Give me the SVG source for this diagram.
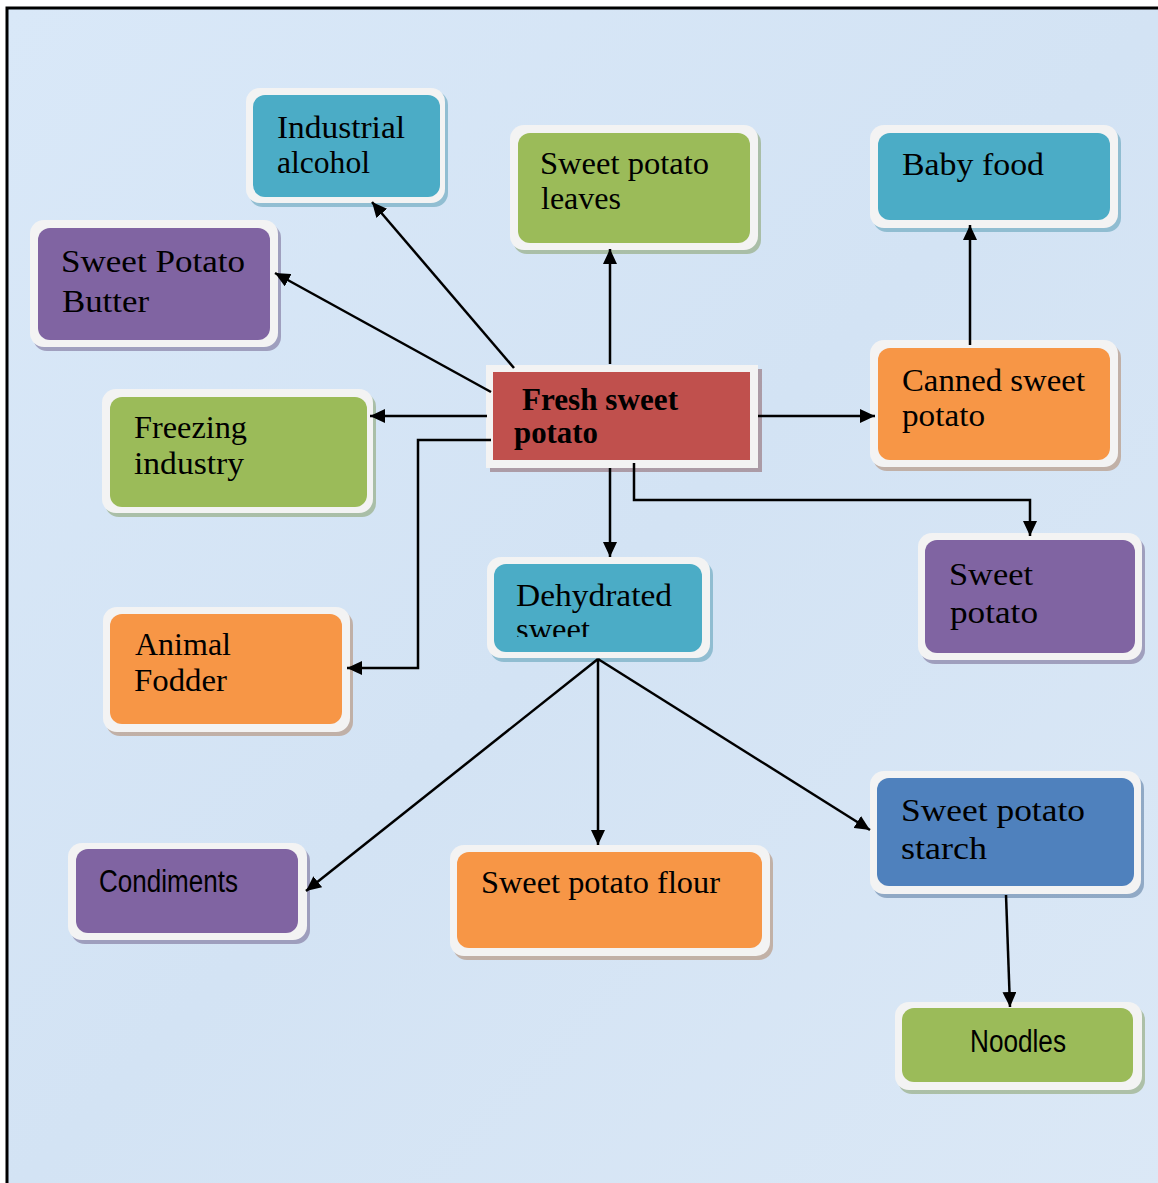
<svg xmlns="http://www.w3.org/2000/svg" width="1158" height="1183" viewBox="0 0 1158 1183">
<style>
.frame{fill:#f3f3f3;}
.t{font-family:"Liberation Serif","Times New Roman",serif;font-size:32px;fill:#000;}
.b{font-weight:bold;}
.s{font-family:"Liberation Sans",Arial,sans-serif;font-size:31px;fill:#000;}
.c{stroke:#000;stroke-width:2.5;fill:none;marker-end:url(#ah);}
</style>
<defs>
<marker id="ah" markerUnits="userSpaceOnUse" markerWidth="16" markerHeight="14" refX="15" refY="7" orient="auto">
<path d="M0,0 L15,7 L0,14 z" fill="#000"/>
</marker>
<linearGradient id="bg" x1="0" y1="0" x2="1" y2="1">
<stop offset="0" stop-color="#d9e8f8"/>
<stop offset="0.5" stop-color="#d3e3f4"/>
<stop offset="1" stop-color="#dbe8f6"/>
</linearGradient>
<clipPath id="dclip"><rect x="494" y="564" width="208" height="73"/></clipPath>
</defs>
<rect x="0" y="0" width="1158" height="1183" fill="#ffffff"/>
<rect x="7" y="8" width="1160" height="1190" fill="url(#bg)" stroke="#000" stroke-width="3"/>

<g id="n-industrial">
<rect x="249" y="91" width="199" height="116" rx="14" fill="#3f8ea6" opacity="0.45"/>
<rect x="246" y="88" width="199" height="115" rx="14" class="frame"/>
<rect x="253" y="95" width="187" height="102" rx="12" fill="#4bacc6"/>
<text class="t" x="277" y="138" textLength="128" lengthAdjust="spacingAndGlyphs">Industrial</text>
<text class="t" x="277" y="173" textLength="93" lengthAdjust="spacingAndGlyphs">alcohol</text>
</g>

<g id="n-butter">
<rect x="33" y="224" width="248" height="127" rx="14" fill="#5e4a7a" opacity="0.45"/>
<rect x="30" y="220" width="248" height="127" rx="14" class="frame"/>
<rect x="38" y="228" width="232" height="112" rx="12" fill="#8064a2"/>
<text class="t" x="61" y="272" textLength="184" lengthAdjust="spacingAndGlyphs">Sweet Potato</text>
<text class="t" x="62" y="312" textLength="87" lengthAdjust="spacingAndGlyphs">Butter</text>
</g>

<g id="n-freezing">
<rect x="105" y="393" width="271" height="124" rx="14" fill="#76904a" opacity="0.45"/>
<rect x="102" y="389" width="271" height="124" rx="14" class="frame"/>
<rect x="110" y="397" width="257" height="110" rx="12" fill="#9bbb59"/>
<text class="t" x="134" y="438" textLength="113" lengthAdjust="spacingAndGlyphs">Freezing</text>
<text class="t" x="134" y="474" textLength="110" lengthAdjust="spacingAndGlyphs">industry</text>
</g>

<g id="n-leaves">
<rect x="513" y="129" width="248" height="125" rx="14" fill="#76904a" opacity="0.45"/>
<rect x="510" y="125" width="248" height="125" rx="14" class="frame"/>
<rect x="518" y="133" width="232" height="110" rx="12" fill="#9bbb59"/>
<text class="t" x="540" y="174" textLength="169" lengthAdjust="spacingAndGlyphs">Sweet potato</text>
<text class="t" x="541" y="209" textLength="80" lengthAdjust="spacingAndGlyphs">leaves</text>
</g>

<g id="n-baby">
<rect x="873" y="129" width="248" height="103" rx="14" fill="#3f8ea6" opacity="0.45"/>
<rect x="870" y="125" width="248" height="103" rx="14" class="frame"/>
<rect x="878" y="133" width="232" height="87" rx="12" fill="#4bacc6"/>
<text class="t" x="902" y="175" textLength="142" lengthAdjust="spacingAndGlyphs">Baby food</text>
</g>

<g id="n-canned">
<rect x="873" y="344" width="248" height="127" rx="14" fill="#a8704a" opacity="0.45"/>
<rect x="870" y="340" width="248" height="127" rx="14" class="frame"/>
<rect x="878" y="348" width="232" height="112" rx="12" fill="#f79646"/>
<text class="t" x="902" y="391" textLength="183" lengthAdjust="spacingAndGlyphs">Canned sweet</text>
<text class="t" x="902" y="426" textLength="83" lengthAdjust="spacingAndGlyphs">potato</text>
</g>

<g id="n-fresh">
<rect x="490" y="369" width="272" height="103" fill="#8a6066" opacity="0.55"/>
<rect x="486" y="365" width="272" height="103" class="frame"/>
<rect x="493" y="372" width="257" height="88" fill="#c0504d"/>
<text class="t b" x="522" y="410" font-size="28" textLength="156" lengthAdjust="spacingAndGlyphs">Fresh sweet</text>
<text class="t b" x="514" y="443" font-size="28" textLength="84" lengthAdjust="spacingAndGlyphs">potato</text>
</g>

<g id="n-sweetpotato">
<rect x="921" y="537" width="224" height="127" rx="14" fill="#5e4a7a" opacity="0.45"/>
<rect x="918" y="533" width="224" height="127" rx="14" class="frame"/>
<rect x="925" y="540" width="210" height="113" rx="12" fill="#8064a2"/>
<text class="t" x="949" y="585" textLength="84" lengthAdjust="spacingAndGlyphs">Sweet</text>
<text class="t" x="950" y="623" textLength="88" lengthAdjust="spacingAndGlyphs">potato</text>
</g>

<g id="n-dehydrated">
<rect x="490" y="561" width="223" height="101" rx="14" fill="#3f8ea6" opacity="0.45"/>
<rect x="487" y="557" width="223" height="101" rx="14" class="frame"/>
<rect x="494" y="564" width="208" height="88" rx="12" fill="#4bacc6"/>
<g clip-path="url(#dclip)">
<text class="t" x="516" y="606" textLength="156" lengthAdjust="spacingAndGlyphs">Dehydrated</text>
<text class="t" x="516" y="640" textLength="74" lengthAdjust="spacingAndGlyphs">sweet</text>
</g>
</g>

<g id="n-fodder">
<rect x="106" y="611" width="247" height="125" rx="14" fill="#a8704a" opacity="0.45"/>
<rect x="103" y="607" width="247" height="125" rx="14" class="frame"/>
<rect x="110" y="614" width="232" height="110" rx="12" fill="#f79646"/>
<text class="t" x="135" y="655" textLength="96" lengthAdjust="spacingAndGlyphs">Animal</text>
<text class="t" x="134" y="691" textLength="93" lengthAdjust="spacingAndGlyphs">Fodder</text>
</g>

<g id="n-condiments">
<rect x="71" y="847" width="239" height="97" rx="14" fill="#5e4a7a" opacity="0.45"/>
<rect x="68" y="843" width="239" height="97" rx="14" class="frame"/>
<rect x="76" y="849" width="222" height="84" rx="12" fill="#8064a2"/>
<text class="s" x="99" y="892" textLength="139" lengthAdjust="spacingAndGlyphs">Condiments</text>
</g>

<g id="n-flour">
<rect x="453" y="849" width="320" height="111" rx="14" fill="#a8704a" opacity="0.45"/>
<rect x="450" y="845" width="320" height="111" rx="14" class="frame"/>
<rect x="457" y="852" width="305" height="96" rx="12" fill="#f79646"/>
<text class="t" x="481" y="893" textLength="239" lengthAdjust="spacingAndGlyphs">Sweet potato flour</text>
</g>

<g id="n-starch">
<rect x="873" y="775" width="271" height="123" rx="14" fill="#3a5f8c" opacity="0.45"/>
<rect x="870" y="771" width="271" height="123" rx="14" class="frame"/>
<rect x="877" y="778" width="257" height="108" rx="12" fill="#4f81bd"/>
<text class="t" x="901" y="821" textLength="184" lengthAdjust="spacingAndGlyphs">Sweet potato</text>
<text class="t" x="901" y="859" textLength="86" lengthAdjust="spacingAndGlyphs">starch</text>
</g>

<g id="n-noodles">
<rect x="898" y="1006" width="247" height="88" rx="14" fill="#76904a" opacity="0.45"/>
<rect x="895" y="1002" width="247" height="88" rx="14" class="frame"/>
<rect x="902" y="1008" width="231" height="74" rx="12" fill="#9bbb59"/>
<text class="s" x="970" y="1052" textLength="96" lengthAdjust="spacingAndGlyphs">Noodles</text>
</g>

<g id="connectors">
<line class="c" x1="514" y1="368" x2="372" y2="202"/>
<line class="c" x1="491" y1="392" x2="275" y2="273"/>
<line class="c" x1="610" y1="364" x2="610" y2="249"/>
<line class="c" x1="487" y1="416" x2="370" y2="416"/>
<polyline class="c" points="491,440 418,440 418,668 347,668"/>
<line class="c" x1="610" y1="468" x2="610" y2="557"/>
<polyline class="c" points="634,463 634,500 1030,500 1030,536"/>
<line class="c" x1="758" y1="416" x2="875" y2="416"/>
<line class="c" x1="970" y1="345" x2="970" y2="225"/>
<line class="c" x1="598" y1="659" x2="306" y2="891"/>
<line class="c" x1="598" y1="659" x2="598" y2="845"/>
<line class="c" x1="598" y1="659" x2="870" y2="830"/>
<line class="c" x1="1006" y1="895" x2="1010" y2="1007"/>
</g>
</svg>
